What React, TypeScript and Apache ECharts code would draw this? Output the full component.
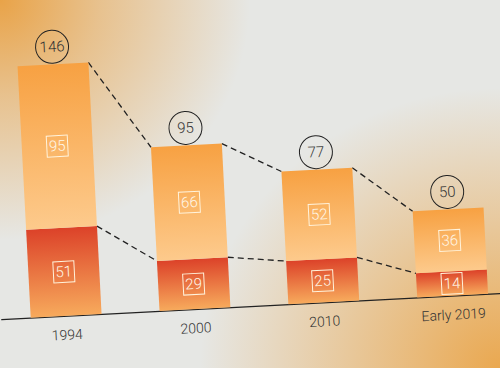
import React, { useEffect, useRef } from "react";
import * as echarts from "echarts";

const categories = ["1994", "2000", "2010", "Early 2019"];
const upperValues = [95, 66, 52, 36];
const lowerValues = [51, 29, 25, 14];
const totals = [146, 95, 77, 50];

const BAR_FRACTION = 0.55;
const FONT = "Roboto, 'Liberation Sans', Arial, sans-serif";

export default function App() {
  const ref = useRef<HTMLDivElement>(null);

  useEffect(() => {
    document.body.style.margin = "0";
    if (!ref.current) return;
    const chart = echarts.init(ref.current, undefined, { renderer: "svg" });

    const innerLabel = {
      show: true,
      position: "inside",
      color: "#fff6e6",
      fontFamily: FONT,
      fontWeight: 300,
      fontSize: 15,
      borderColor: "#fff3dc",
      borderWidth: 1,
      width: 17,
      height: 16,
      lineHeight: 16,
      align: "center",
      padding: [3, 2, 2, 2],
    };

    const segLines = (vals: number[]) =>
      vals.slice(0, -1).map((v, i) => [i, v, vals[i + 1]]);

    const dashSeries = (vals: number[], name: string) => ({
      type: "custom",
      name,
      z: 1,
      silent: true,
      data: segLines(vals),
      encode: { x: 0, y: 1 },
      renderItem: (params: any, api: any) => {
        const i = api.value(0);
        const p1 = api.coord([i, api.value(1)]);
        const p2 = api.coord([i + 1, api.value(2)]);
        const half = (api.size([1, 0])[0] * BAR_FRACTION) / 2;
        return {
          type: "line",
          shape: { x1: p1[0] + half, y1: p1[1], x2: p2[0] - half, y2: p2[1] },
          style: { stroke: "#222", lineWidth: 1.3, lineDash: [6, 4] },
        };
      },
    });

    chart.setOption({
      animation: false,
      grid: { left: 15, width: 516, top: 30, bottom: 62 },
      xAxis: {
        type: "category",
        data: categories,
        axisLine: { lineStyle: { color: "#222", width: 1.3 } },
        axisTick: { show: false },
        axisLabel: {
          color: "#333",
          fontSize: 14,
          fontWeight: 300,
          margin: 12,
          fontFamily: FONT,
        },
      },
      yAxis: {
        type: "value",
        min: 0,
        max: 160,
        show: false,
        splitLine: { show: false },
      },
      series: [
        {
          type: "bar",
          stack: "t",
          z: 3,
          barWidth: BAR_FRACTION * 100 + "%",
          data: lowerValues,
          itemStyle: {
            color: new echarts.graphic.LinearGradient(0, 0, 0, 1, [
              { offset: 0, color: "#dc4229" },
              { offset: 1, color: "#f7aa5c" },
            ]),
          },
          label: innerLabel,
        },
        {
          type: "bar",
          stack: "t",
          z: 3,
          barWidth: BAR_FRACTION * 100 + "%",
          data: upperValues,
          itemStyle: {
            color: new echarts.graphic.LinearGradient(0, 0, 0, 1, [
              { offset: 0, color: "#f7a142" },
              { offset: 1, color: "#fdca8c" },
            ]),
          },
          label: innerLabel,
        },
        {
          type: "bar",
          stack: "t",
          z: 3,
          barWidth: BAR_FRACTION * 100 + "%",
          data: totals.map(() => 0),
          itemStyle: { color: "transparent" },
          label: {
            show: true,
            position: "top",
            distance: 1,
            formatter: (p: any) => String(totals[p.dataIndex]),
            color: "#333",
            fontSize: 15,
            fontFamily: FONT,
            fontWeight: 300,
            borderColor: "#222",
            borderWidth: 1,
            borderRadius: 17,
            width: 33,
            height: 33,
            lineHeight: 33,
            align: "center",
            padding: 0,
          },
        },
        dashSeries(totals, "totalLine"),
        dashSeries(lowerValues, "lowerLine"),
      ],
    });

    return () => chart.dispose();
  }, []);

  return (
    <div
      style={{
        position: "fixed",
        left: 0,
        top: 0,
        width: 500,
        height: 368,
        overflow: "hidden",
        background:
          "radial-gradient(ellipse 250px 240px at 0% 0%, rgba(233,163,72,1) 0%, rgba(233,163,72,0.55) 40%, rgba(233,163,72,0) 100%), radial-gradient(ellipse 300px 280px at 100% 100%, rgba(234,168,80,1) 0%, rgba(234,168,80,0.55) 45%, rgba(234,168,80,0) 100%), #e6e7e4",
      }}
    >
      <div
        ref={ref}
        style={{
          position: "absolute",
          left: -20,
          top: 0,
          width: 540,
          height: 368,
          transform: "rotate(-3deg)",
          transformOrigin: "50% 50%",
        }}
      />
    </div>
  );
}
